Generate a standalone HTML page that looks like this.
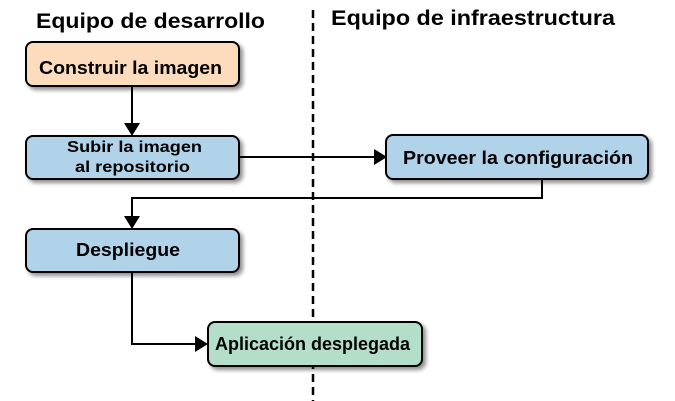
<!DOCTYPE html>
<html><head><meta charset="utf-8"><style>
html,body{margin:0;padding:0;background:#fff;}
svg{display:block;font-family:"Liberation Sans",Arial,sans-serif;font-weight:bold;}
</style></head><body>
<svg width="675" height="401" viewBox="0 0 675 401" xmlns="http://www.w3.org/2000/svg">
<defs>
<filter id="sh" x="-10%" y="-20%" width="130%" height="160%">
<feGaussianBlur in="SourceAlpha" stdDeviation="2"/>
<feOffset dx="3" dy="3"/>
<feComponentTransfer><feFuncA type="linear" slope="0.45"/></feComponentTransfer>
<feMerge><feMergeNode/><feMergeNode in="SourceGraphic"/></feMerge>
</filter>
</defs>
<text x="36" y="28" font-size="21" textLength="229" lengthAdjust="spacingAndGlyphs" fill="#000">Equipo de desarrollo</text>
<text x="331" y="25" font-size="21" textLength="284" lengthAdjust="spacingAndGlyphs" fill="#000">Equipo de infraestructura</text>
<line x1="313" y1="10" x2="313" y2="401" stroke="#000" stroke-width="2.5" stroke-dasharray="8,5"/>
<g stroke="#000" stroke-width="2" fill="none">
<line x1="132" y1="86" x2="132" y2="124"/>
<polyline points="239,157 375,157"/>
<polyline points="542,179 542,198 132,198 132,217"/>
<polyline points="132,272 132,344 196,344"/>
</g>
<g fill="#000">
<polygon points="124,123 140,123 132,136"/>
<polygon points="374,149 374,165 387,157"/>
<polygon points="124,216 140,216 132,229"/>
<polygon points="195,336 195,352 208,344"/>
</g>
<g stroke="#000" stroke-width="2" filter="url(#sh)">
<rect x="26" y="42" width="213" height="44" rx="7" fill="#fcdcbd"/>
<rect x="26" y="136" width="213" height="43" rx="7" fill="#b1d3ea"/>
<rect x="386" y="135" width="262" height="44" rx="7" fill="#b1d3ea"/>
<rect x="26" y="229" width="213" height="43" rx="7" fill="#b1d3ea"/>
<rect x="208" y="322" width="214" height="44" rx="7" fill="#b3dfca"/>
</g>
<g fill="#000" font-size="18" lengthAdjust="spacingAndGlyphs">
<text x="39" y="74" textLength="183" lengthAdjust="spacingAndGlyphs">Construir la imagen</text>
<text x="67" y="152" font-size="16" textLength="135" lengthAdjust="spacingAndGlyphs">Subir la imagen</text>
<text x="75" y="172" font-size="16" textLength="115" lengthAdjust="spacingAndGlyphs">al repositorio</text>
<text x="403" y="164" textLength="230" lengthAdjust="spacingAndGlyphs">Proveer la configuración</text>
<text x="76" y="256" textLength="104" lengthAdjust="spacingAndGlyphs">Despliegue</text>
<text x="215" y="350" textLength="195" lengthAdjust="spacingAndGlyphs">Aplicación desplegada</text>
</g>
</svg>
</body></html>
